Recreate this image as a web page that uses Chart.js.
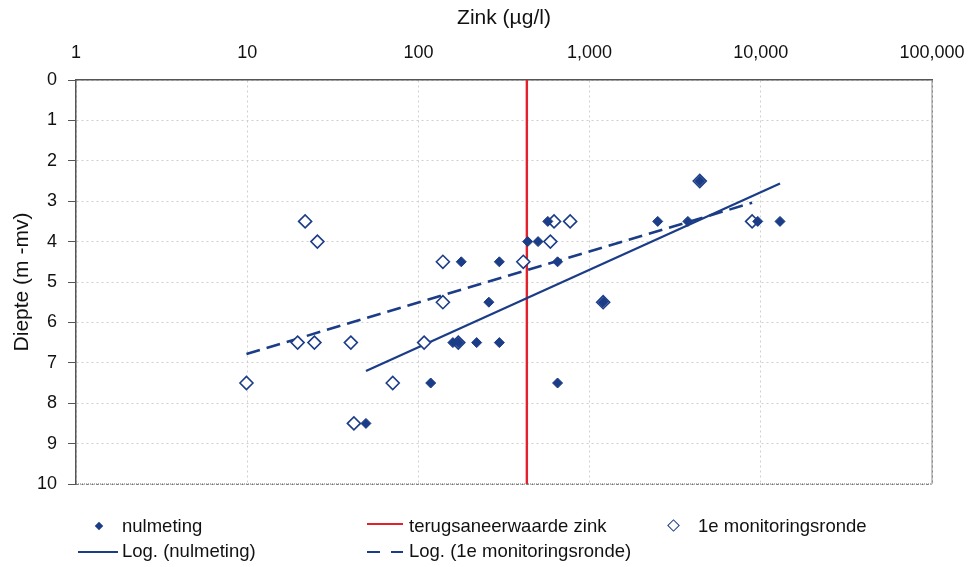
<!DOCTYPE html>
<html>
<head>
<meta charset="utf-8">
<title>Zink - diepte</title>
<script src="https://cdn.jsdelivr.net/npm/chart.js@4.4.1/dist/chart.umd.min.js"></script>
<style>
  body { margin: 0; background: #fff; }
  #wrap { position: relative; width: 971px; height: 567px; font-family: Arial, "Liberation Sans", sans-serif; color: #111; }
  #chart { position: absolute; left: 0; top: 0; }
  .lg-item { position: absolute; font-size: 18.5px; line-height: 22px; white-space: nowrap; }
  .lg-sym { position: absolute; }
</style>
</head>
<body>
<div id="wrap">
  <canvas id="chart" width="971" height="567"></canvas>
  <div id="legend"></div>
</div>
<script>
// Zink concentration (ug/l) against depth (m -mv)

// nulmeting (filled diamonds)
const nulZink   = [4400, 570, 2500, 3750, 9600, 12950, 435, 500, 178, 297, 650, 258, 1200, 159, 171, 219, 297, 118, 650, 49.4];
const nulDiepte = [2.5, 3.5, 3.5, 3.5, 3.5, 3.5, 4, 4, 4.5, 4.5, 4.5, 5.5, 5.5, 6.5, 6.5, 6.5, 6.5, 7.5, 7.5, 8.5];

// 1e monitoringsronde (open diamonds)
const monZink   = [4400, 21.8, 620, 770, 8900, 25.7, 590, 139, 410, 139, 1200, 19.7, 24.7, 40.3, 108, 171, 9.9, 70.8, 42];
const monDiepte = [2.5, 3.5, 3.5, 3.5, 3.5, 4, 4, 4.5, 4.5, 5.5, 5.5, 6.5, 6.5, 6.5, 6.5, 6.5, 7.5, 7.5, 8.5];

// trendline end points
const trendNulZink   = [49.4, 12950];
const trendNulDiepte = [7.2, 2.56];
const trendMonZink   = [9.9, 8900];
const trendMonDiepte = [6.78, 3.04];

// terugsaneerwaarde zink
const saneerZink   = [430, 430];
const saneerDiepte = [0, 10];

const xTickValues = [1, 10, 100, 1000, 10000, 100000];
const yTickValues = [0, 1, 2, 3, 4, 5, 6, 7, 8, 9, 10];

const NAVY = '#1b3c87';
const RED = '#e3202b';

function toPoints(xs, ys) {
    return xs.map((x, i) => ({ x: x, y: ys[i] }));
}

Chart.defaults.font.family = 'Arial, "Liberation Sans", sans-serif';
Chart.defaults.color = '#111';

// right and bottom edge of the plot area
const frame = {
    id: 'frame',
    afterDraw(chart) {
        const { ctx, chartArea: a } = chart;
        ctx.save();
        ctx.strokeStyle = '#8a8a8a';
        ctx.lineWidth = 1;
        ctx.beginPath();
        ctx.moveTo(a.right, a.top);
        ctx.lineTo(a.right, a.bottom);
        ctx.stroke();
        ctx.setLineDash([1, 1]);
        ctx.strokeStyle = '#666';
        ctx.beginPath();
        ctx.moveTo(a.left, a.bottom);
        ctx.lineTo(a.right, a.bottom);
        ctx.stroke();
        ctx.restore();
    }
};

const datasets = [
    {
        label: 'nulmeting',
        data: toPoints(nulZink, nulDiepte),
        showLine: false,
        pointStyle: 'rectRot',
        pointRadius: 5,
        backgroundColor: NAVY,
        borderColor: NAVY,
        borderWidth: 1,
        order: 0
    },
    {
        label: '1e monitoringsronde',
        data: toPoints(monZink, monDiepte),
        showLine: false,
        pointStyle: 'rectRot',
        pointRadius: 6.5,
        backgroundColor: '#fff',
        borderColor: NAVY,
        borderWidth: 1.6,
        order: 1
    },
    {
        label: 'Log. (nulmeting)',
        data: toPoints(trendNulZink, trendNulDiepte),
        showLine: true,
        pointRadius: 0,
        borderColor: NAVY,
        borderWidth: 2.2,
        order: 2
    },
    {
        label: 'Log. (1e monitoringsronde)',
        data: toPoints(trendMonZink, trendMonDiepte),
        showLine: true,
        pointRadius: 0,
        borderColor: NAVY,
        borderWidth: 2.6,
        borderDash: [14, 7],
        order: 3
    },
    {
        label: 'terugsaneerwaarde zink',
        data: toPoints(saneerZink, saneerDiepte),
        showLine: true,
        pointRadius: 0,
        borderColor: RED,
        borderWidth: 2.4,
        order: 4
    }
];

const chart = new Chart(document.getElementById('chart'), {
    type: 'scatter',
    data: { datasets: datasets },
    options: {
        responsive: false,
        animation: false,
        layout: { padding: { left: 0, top: 0, right: 39, bottom: 83 } },
        plugins: {
            legend: { display: false },
            tooltip: { enabled: false }
        },
        scales: {
            x: {
                type: 'logarithmic',
                position: 'top',
                min: 1,
                max: 100000,
                afterBuildTicks: s => { s.ticks = xTickValues.map(v => ({ value: v })); },
                afterFit: s => { s.height = 80; s.paddingLeft = 0; s.paddingRight = 0; },
                ticks: {
                    autoSkip: false,
                    maxRotation: 0,
                    padding: 16,
                    font: { size: 18 },
                    callback: v => Number(v).toLocaleString('en-US')
                },
                grid: {
                    drawTicks: false,
                    color: ctx => (ctx.tick && ctx.tick.value === 100000) ? '#8a8a8a' : '#cfcfcf'
                },
                border: { color: '#555', width: 1.5, dash: [2, 3] },
                title: {
                    display: true,
                    text: 'Zink (µg/l)',
                    font: { size: 21 },
                    padding: { top: 6, bottom: 0 }
                }
            },
            y: {
                type: 'linear',
                reverse: true,
                min: 0,
                max: 10,
                afterBuildTicks: s => { s.ticks = yTickValues.map(v => ({ value: v })); },
                afterFit: s => { s.width = 76; s.paddingTop = 0; s.paddingBottom = 0; },
                ticks: {
                    padding: 11,
                    font: { size: 18 }
                },
                grid: {
                    drawTicks: true,
                    tickLength: 8,
                    tickColor: '#555',
                    color: ctx => (ctx.tick && ctx.tick.value === 10) ? '#777' : '#cfcfcf'
                },
                border: { color: '#555', width: 1.5, dash: [2, 3] },
                title: {
                    display: true,
                    text: 'Diepte (m -mv)',
                    font: { size: 21 },
                    padding: { top: 10, bottom: 0 }
                }
            }
        }
    },
    plugins: [frame]
});

// HTML legend, built from the chart's datasets
const legendLayout = {
    'nulmeting':                  { left: 122, top: 515, sym: 'filled', sx: 99,  sy: 526 },
    'terugsaneerwaarde zink':     { left: 409, top: 515, sym: 'red',    sx: 367, sy: 524 },
    '1e monitoringsronde':        { left: 698, top: 515, sym: 'open',   sx: 674, sy: 526 },
    'Log. (nulmeting)':           { left: 122, top: 540, sym: 'solid',  sx: 78,  sy: 552 },
    'Log. (1e monitoringsronde)': { left: 409, top: 540, sym: 'dashed', sx: 367, sy: 552 }
};

function buildLegend() {
    const box = document.getElementById('legend');
    chart.data.datasets.forEach(ds => {
        const l = legendLayout[ds.label];
        if (!l) return;
        const item = document.createElement('div');
        item.className = 'lg-item';
        item.style.left = l.left + 'px';
        item.style.top = l.top + 'px';
        item.textContent = ds.label;
        box.appendChild(item);

        const sym = document.createElement('div');
        sym.className = 'lg-sym';
        if (l.sym === 'filled') {
            Object.assign(sym.style, { left: (l.sx - 3) + 'px', top: (l.sy - 3) + 'px', width: '6px', height: '6px',
                background: ds.backgroundColor, transform: 'rotate(45deg)' });
        } else if (l.sym === 'open') {
            Object.assign(sym.style, { left: (l.sx - 5) + 'px', top: (l.sy - 5) + 'px', width: '7px', height: '7px',
                border: '1.6px solid ' + ds.borderColor, background: '#fff', transform: 'rotate(45deg)' });
        } else if (l.sym === 'dashed') {
            Object.assign(sym.style, { left: l.sx + 'px', top: (l.sy - 1) + 'px', width: '36px', height: '0px',
                borderTop: '2.6px dashed ' + ds.borderColor });
            sym.style.borderImage = 'repeating-linear-gradient(90deg, ' + ds.borderColor + ' 0 13px, transparent 13px 24px) 1';
        } else {
            const w = l.sym === 'solid' ? 40 : 36;
            Object.assign(sym.style, { left: l.sx + 'px', top: (l.sy - 1) + 'px', width: w + 'px', height: '2.4px',
                background: ds.borderColor });
        }
        box.appendChild(sym);
    });
}

buildLegend();
</script>
</body>
</html>
